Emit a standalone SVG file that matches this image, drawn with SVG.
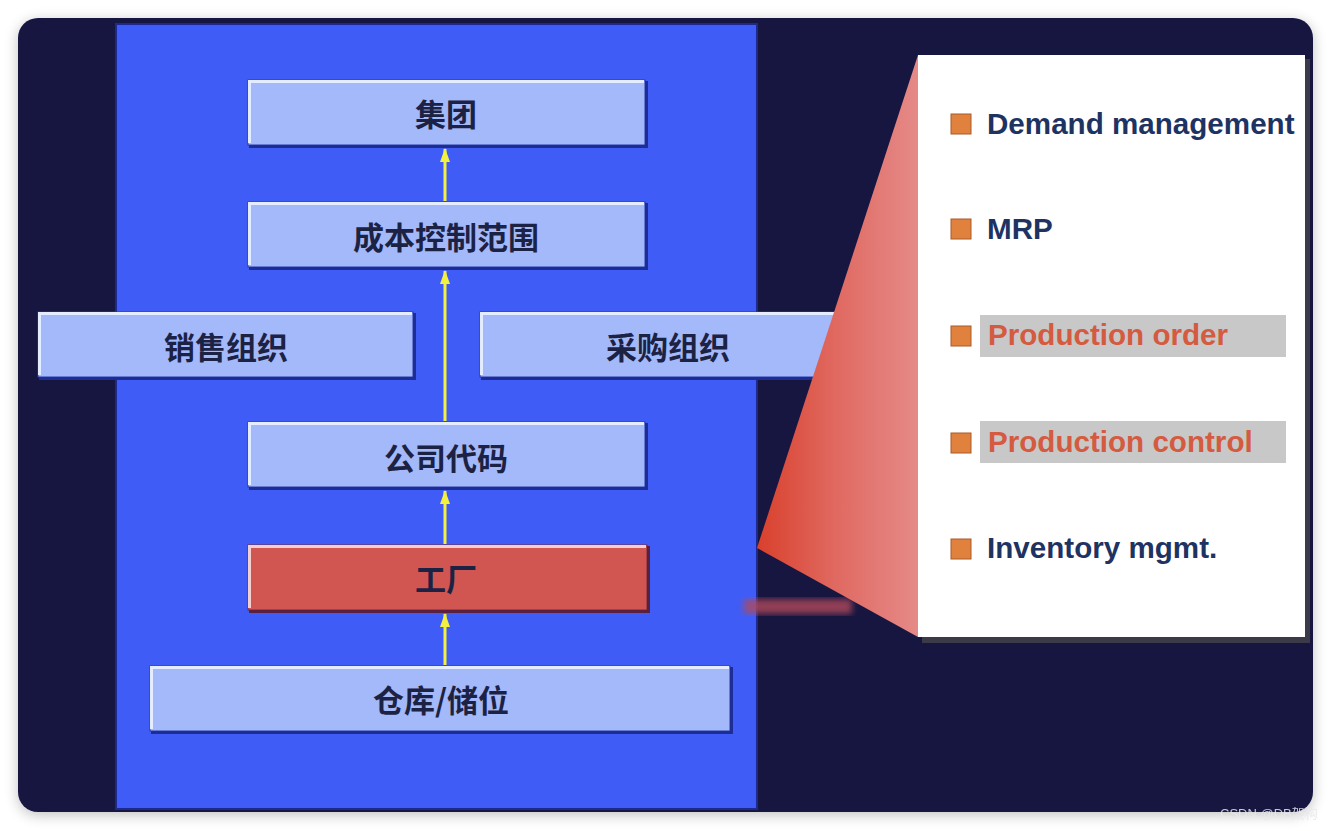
<svg xmlns="http://www.w3.org/2000/svg" width="1332" height="831" viewBox="0 0 1332 831">
<defs>
<filter id="sh" x="-5%" y="-5%" width="110%" height="112%"><feGaussianBlur in="SourceAlpha" stdDeviation="7"/><feOffset dy="3"/><feComponentTransfer><feFuncA type="linear" slope="0.25"/></feComponentTransfer><feMerge><feMergeNode/><feMergeNode in="SourceGraphic"/></feMerge></filter>
<filter id="blur"><feGaussianBlur stdDeviation="3"/></filter>
<linearGradient id="wedge" x1="0" y1="0" x2="1" y2="0"><stop offset="0" stop-color="#d9402c"/><stop offset="0.5" stop-color="#e06a62"/><stop offset="1" stop-color="#e58a88"/></linearGradient>
<marker id="ah" viewBox="0 0 14 10" refX="13" refY="5" markerWidth="14" markerHeight="10" markerUnits="userSpaceOnUse" orient="auto"><path d="M0,0 L14,5 L0,10 Z" fill="#f4f040"/></marker>
<style>
.box{fill:#a3b9fa;stroke:#2a3aa8;stroke-width:1}
.hl{stroke:#e4ecff;stroke-width:3;fill:none}
.dk{stroke:#1e2c96;stroke-width:3;fill:none}
.cn{font-family:"Noto Sans CJK SC","Noto Sans",sans-serif;font-weight:700;font-size:31px;fill:#1c2244;text-anchor:middle;dominant-baseline:central}
.en{font-family:"Liberation Sans",Arial,sans-serif;font-weight:700;font-size:29.6px}
.nv{fill:#1e3362}
.or{fill:#d45a40}
.bul{fill:#e0823e;stroke:#a85a28;stroke-width:1}
.arr{stroke:#f4f040;stroke-width:3;fill:none;marker-end:url(#ah)}
</style>
</defs>
<rect x="0" y="0" width="1332" height="831" fill="#ffffff"/>
<rect x="18" y="18" width="1295" height="794" rx="20" fill="#141541" filter="url(#sh)"/>
<rect x="116" y="24" width="641" height="785" fill="#3f5df6" stroke="#1c2a90" stroke-width="2"/>

<g id="node-jituan">
<rect class="box" x="248" y="80" width="397" height="65"/>
<path class="hl" d="M249.5,143 V81.5 H644"/>
<path class="dk" d="M249,146.5 H646.5 V81"/>
<text class="cn" x="446" y="112">集团</text>
</g>
<g id="node-chengben">
<rect class="box" x="248" y="202" width="397" height="65"/>
<path class="hl" d="M249.5,265 V203.5 H644"/>
<path class="dk" d="M249,268.5 H646.5 V203"/>
<text class="cn" x="446" y="235">成本控制范围</text>
</g>
<g id="node-xiaoshou">
<rect class="box" x="38" y="312" width="375" height="65"/>
<path class="hl" d="M39.5,375 V313.5 H412"/>
<path class="dk" d="M39,378.5 H414.5 V313"/>
<text class="cn" x="226" y="345">销售组织</text>
</g>
<g id="node-caigou">
<rect class="box" x="480" y="312" width="380" height="65"/>
<path class="hl" d="M481.5,375 V313.5 H858"/>
<path class="dk" d="M481,378.5 H860"/>
<text class="cn" x="668" y="345">采购组织</text>
</g>
<g id="node-gongsi">
<rect class="box" x="248" y="422" width="397" height="65"/>
<path class="hl" d="M249.5,485 V423.5 H644"/>
<path class="dk" d="M249,488.5 H646.5 V423"/>
<text class="cn" x="446" y="456">公司代码</text>
</g>
<g id="node-gongchang">
<rect x="248" y="545" width="399" height="65" fill="#d15651" stroke="#7a2a40" stroke-width="1"/>
<path d="M249.5,608 V546.5 H646" stroke="#f2d0d0" stroke-width="3" fill="none"/>
<path d="M249,611.5 H648.5 V546" stroke="#5a2040" stroke-width="3" fill="none"/>
<text class="cn" x="446" y="577">工厂</text>
</g>
<g id="node-cangku">
<rect class="box" x="150" y="666" width="580" height="65"/>
<path class="hl" d="M151.5,729 V667.5 H729"/>
<path class="dk" d="M151,732.5 H731.5 V667"/>
<text class="cn" x="441" y="698">仓库/储位</text>
</g>

<g id="connectors">
<line class="arr" x1="445" y1="201" x2="445" y2="149"/>
<line class="arr" x1="445" y1="421" x2="445" y2="271"/>
<line class="arr" x1="445" y1="544" x2="445" y2="491"/>
<line class="arr" x1="445" y1="665" x2="445" y2="614"/>
</g>

<rect x="744" y="599" width="108" height="15" fill="#b0485c" opacity="0.8" filter="url(#blur)"/>

<g id="detail-panel">
<polygon points="757,548 918,55 918,637" fill="url(#wedge)"/>
<rect x="922" y="59" width="388" height="584" fill="#3a3a48"/>
<rect x="918" y="55" width="387" height="582" fill="#ffffff"/>
<rect x="980" y="315" width="306" height="42" fill="#c8c8c8"/>
<rect x="980" y="421" width="306" height="42" fill="#c8c8c8"/>
<rect class="bul" x="951" y="114" width="20" height="20"/>
<rect class="bul" x="951" y="219" width="20" height="20"/>
<rect class="bul" x="951" y="326" width="20" height="20"/>
<rect class="bul" x="951" y="433" width="20" height="20"/>
<rect class="bul" x="951" y="539" width="20" height="20"/>
<text class="en nv" x="987" y="134">Demand management</text>
<text class="en nv" x="987" y="239">MRP</text>
<text class="en or" x="988" y="345">Production order</text>
<text class="en or" x="988" y="452">Production control</text>
<text class="en nv" x="987" y="558">Inventory mgmt.</text>
</g>

<text x="1220" y="818" font-family="'Liberation Sans','Noto Sans CJK SC',sans-serif" font-size="13" fill="#e8e8ee" opacity="0.85">CSDN @DB架构</text>
</svg>
